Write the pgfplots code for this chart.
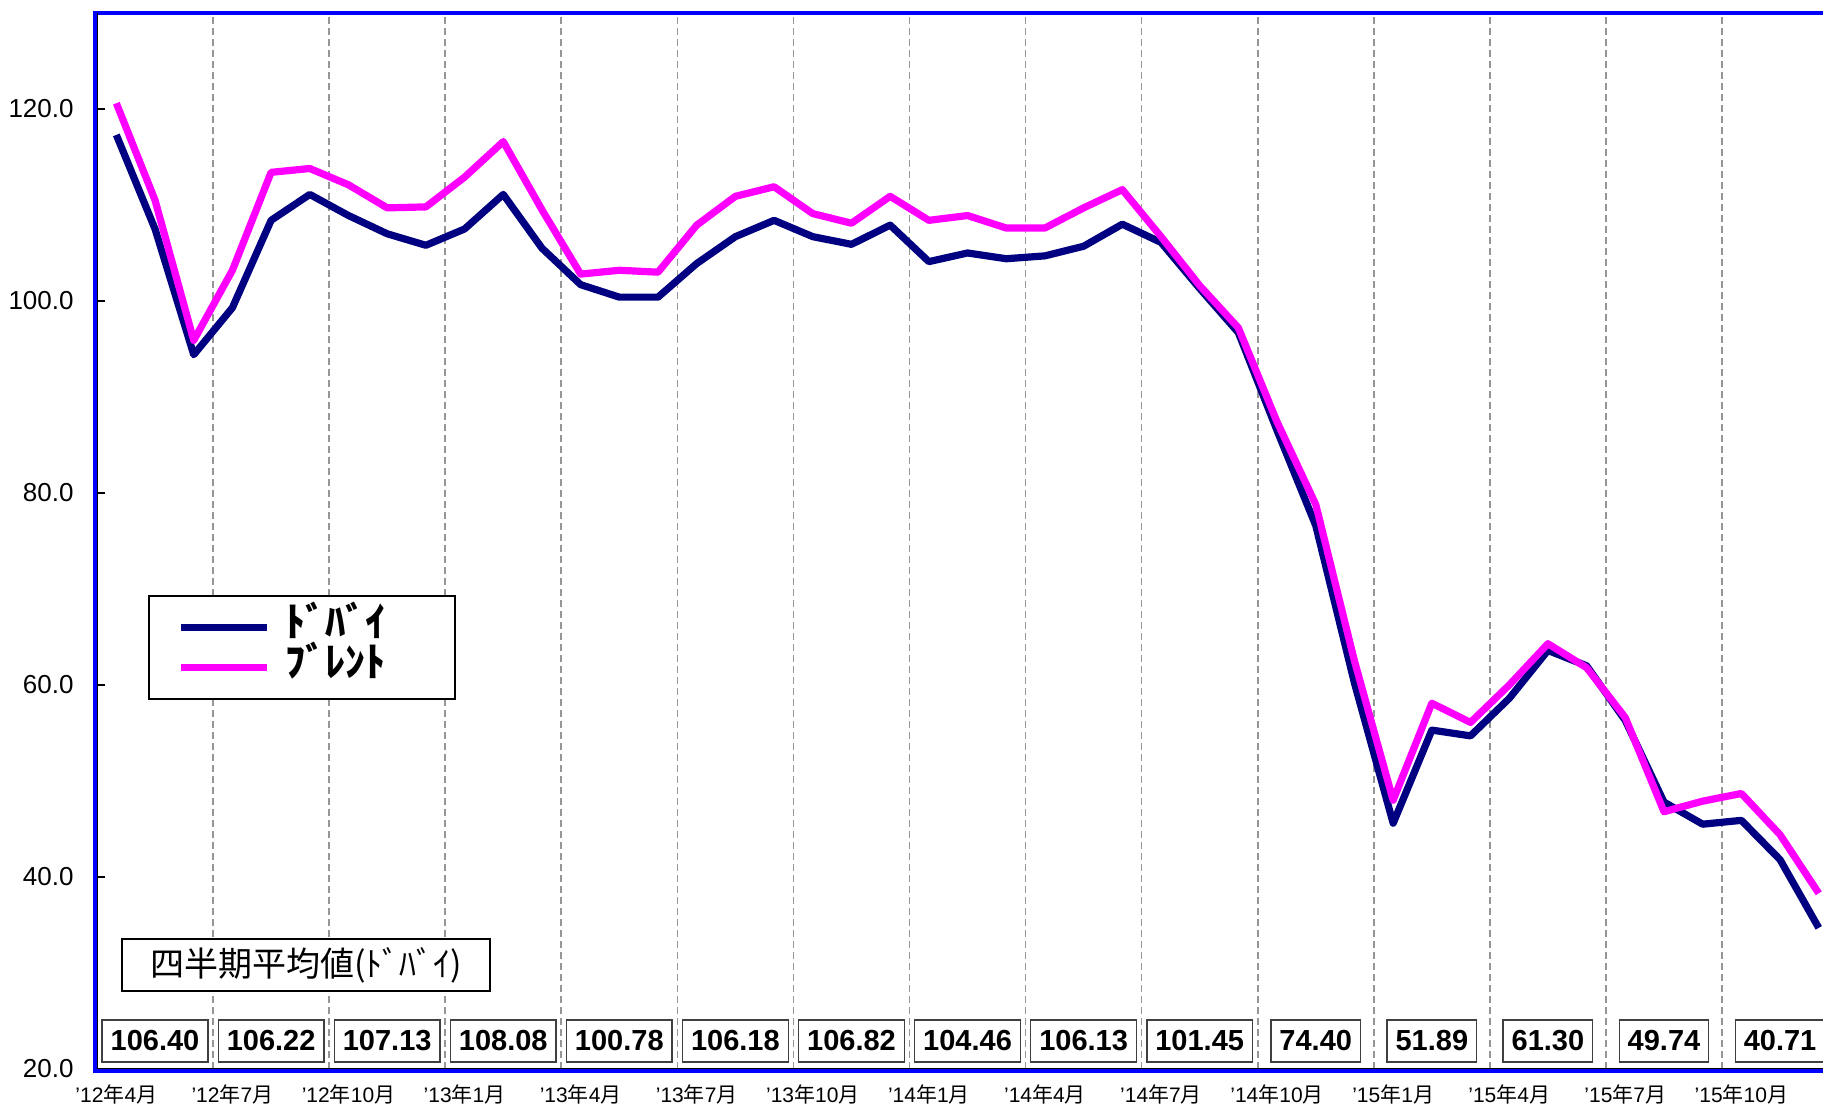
\documentclass[border=0pt]{standalone}
\usepackage{pgfplots}
\usepackage{pgfplotstable}
\pgfplotsset{compat=1.18}
\usepackage{fontspec}
\setmainfont{Liberation Sans}
\newfontfamily\jp{Noto Sans CJK JP}
\definecolor{dubai}{RGB}{0,0,128}
\definecolor{brent}{RGB}{255,0,255}
\definecolor{frameblue}{RGB}{0,0,255}
\definecolor{gridgray}{RGB}{150,150,150}
\newcommand\nen{{\jp 年}}
\newcommand\gatsu{{\jp 月}}

\pgfplotstableread{
x dubai brent
0 117.3 120.6
1 107.5 110.5
2 94.4 95.9
3 99.3 103.2
4 108.4 113.4
5 111.1 113.8
6 108.9 112.1
7 107.0 109.7
8 105.8 109.8
9 107.5 112.9
10 111.1 116.6
11 105.5 109.5
12 101.7 102.8
13 100.4 103.2
14 100.4 103.0
15 103.9 107.9
16 106.7 110.9
17 108.4 111.9
18 106.7 109.1
19 105.9 108.1
20 107.9 110.9
21 104.1 108.4
22 105.0 108.9
23 104.4 107.6
24 104.7 107.6
25 105.7 109.7
26 108.0 111.6
27 106.1 106.7
28 101.3 101.6
29 96.7 97.2
30 86.5 87.4
31 76.6 78.8
32 60.2 62.5
33 45.6 48.0
34 55.3 58.1
35 54.7 56.1
36 58.6 60.0
37 63.6 64.3
38 62.0 61.8
39 56.3 56.6
40 47.8 46.8
41 45.5 47.9
42 45.9 48.7
43 41.8 44.4
44 34.7 38.3
}\oil

\pgfplotstableread{
x y label
1 22.92 106.40
4 22.92 106.22
7 22.92 107.13
10 22.92 108.08
13 22.92 100.78
16 22.92 106.18
19 22.92 106.82
22 22.92 104.46
25 22.92 106.13
28 22.92 101.45
31 22.92 74.40
34 22.92 51.89
37 22.92 61.30
40 22.92 49.74
43 22.92 40.71
}\quarters

\begin{document}
\begin{tikzpicture}
\begin{axis}[
  name=ax,
  scale only axis,
  width=863pt, height=528pt,
  xmin=-0.5, xmax=44.11,
  ymin=20, ymax=130,
  axis line style={draw=none},
  xtick={0,3,...,42},
  xticklabels={’12\nen4\gatsu, ’12\nen7\gatsu, ’12\nen10\gatsu,
    ’13\nen1\gatsu, ’13\nen4\gatsu, ’13\nen7\gatsu, ’13\nen10\gatsu,
    ’14\nen1\gatsu, ’14\nen4\gatsu, ’14\nen7\gatsu, ’14\nen10\gatsu,
    ’15\nen1\gatsu, ’15\nen4\gatsu, ’15\nen7\gatsu, ’15\nen10\gatsu},
  xtick style={draw=none},
  minor xtick={2.5,5.5,8.5,11.5,14.5,17.5,20.5,23.5,26.5,29.5,32.5,35.5,38.5,41.5},
  xminorgrids=true,
  minor grid style={gridgray, line width=0.8pt, dash pattern=on 3.5pt off 2pt},
  minor tick length=0pt,
  xticklabel style={anchor=center, inner sep=0pt, yshift=-12.5pt,
    font=\fontsize{10.5}{10.5}\selectfont},
  ytick={20,40,...,120},
  ytick pos=left,
  tick align=inside,
  major tick length=4pt,
  ytick style={black, line width=0.6pt},
  /pgf/number format/assume math mode=true,
  yticklabel style={anchor=east, inner sep=0pt, xshift=-11.5pt,
    font=\fontsize{13}{13}\selectfont,
    /pgf/number format/fixed, /pgf/number format/fixed zerofill,
    /pgf/number format/precision=1},
  legend style={at={(rel axis cs:0.02955,0.4489)}, anchor=north west,
    draw=black, line width=0.9pt, fill=white,
    inner xsep=0pt, inner ysep=5.75pt, row sep=0pt,
    font=\jp\bfseries\fontsize{20}{20}\selectfont,
    nodes={inner sep=0pt, text height=14.5pt, text depth=5.5pt}},
  legend image code/.code={
    \draw[draw=none] (0pt,0pt) -- (68.5pt,0pt);
    \draw[#1, line width=3.6pt] (16pt,0pt) -- (59pt,0pt);
  },
]
\addplot[dubai, line width=3.6pt, line join=round] table[x=x, y=dubai] {\oil};
\addlegendentry{\makebox[84.5pt][l]{ﾄﾞﾊﾞｲ}}
\addplot[brent, line width=3.6pt, line join=round] table[x=x, y=brent] {\oil};
\addlegendentry{\makebox[84.5pt][l]{ﾌﾞﾚﾝﾄ}}
\addplot[draw=none, mark=none, forget plot,
  point meta=explicit symbolic,
  nodes near coords={\pgfplotspointmeta},
  every node near coord/.append style={anchor=center, draw=black!75,
    fill=white, line width=0.7pt, inner xsep=4.25pt, inner ysep=0pt,
    minimum height=21pt, text=black,
    font=\bfseries\fontsize{14.5}{14.5}\selectfont}]
  table[x=x, y=y, meta=label] {\quarters};
\node[draw=black, line width=0.85pt, fill=white, minimum width=184pt,
  minimum height=26pt, inner sep=0pt, font=\jp\fontsize{17}{17}\selectfont]
  at (rel axis cs:0.1211,0.0985) {四半期平均値(ﾄﾞﾊﾞｲ)};
\end{axis}
\draw[frameblue, line width=2.2pt] ([xshift=-2pt]ax.north west) -- ([xshift=2pt]ax.north east);
\draw[frameblue, line width=2pt] ([xshift=-1pt,yshift=-2pt]ax.south west) -- ([xshift=-1pt]ax.north west);
\draw[frameblue, line width=2pt] ([xshift=-2pt,yshift=-1pt]ax.south west) -- ([xshift=2pt,yshift=-1pt]ax.south east);
\draw[black, line width=0.5pt] (ax.north west) -- (ax.south west) -- ([xshift=2pt]ax.south east);
\pgfresetboundingbox
\path[use as bounding box] ([xshift=-48.5pt, yshift=-18pt]ax.south west) rectangle ([yshift=6.5pt]ax.north east);
\end{tikzpicture}
\end{document}
